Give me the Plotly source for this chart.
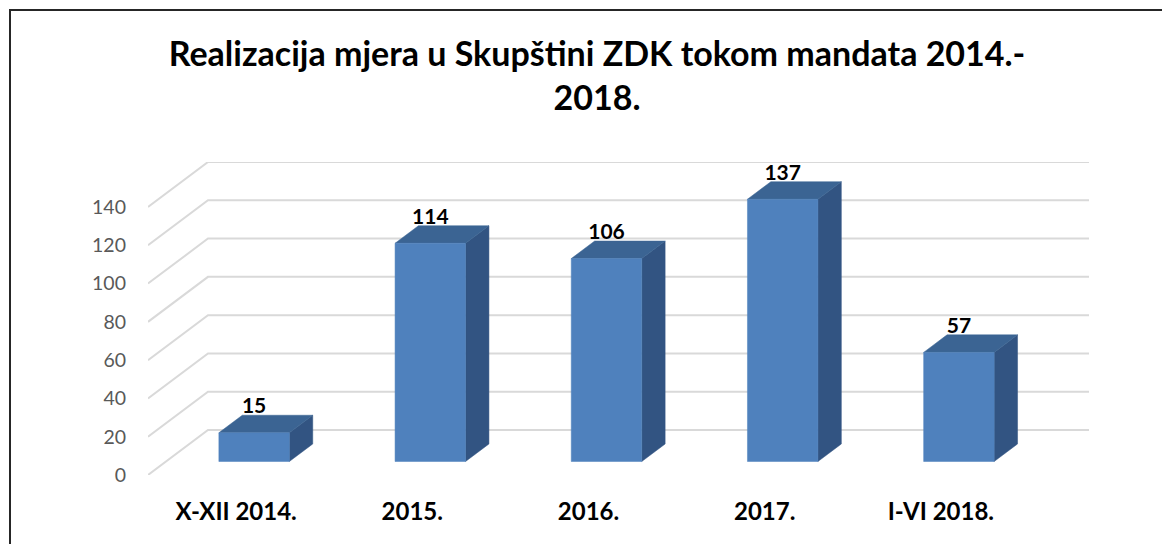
import plotly.graph_objects as go

# ---- data ----
categories = ["X-XII 2014.", "2015.", "2016.", "2017.", "I-VI 2018."]
values = [15, 114, 106, 137, 57]
y_ticks = [0, 20, 40, 60, 80, 100, 120, 140]
title_text = "Realizacija mjera u Skupštini ZDK tokom mandata 2014.-<br>2018."

# ---- pseudo-3D geometry (in axis units) ----
DX = 0.3405      # depth offset along x (category units)
DY = 23.5        # depth offset along y (value units)
Z0, Z1 = 0.30, 0.69   # bar depth span (fraction of floor depth)
HW = 0.20        # half bar width
LABEL_DROP = 1.8 # small downward nudge of value labels (value units)

FRONT = "#4F81BD"
TOP = "#3B6493"
SIDE = "#325482"
GRID = "#D9D9D9"
FONT = "Lato"

fig = go.Figure()

# grid: back wall horizontals + side-wall diagonals
gx, gy = [], []
x_left = -0.5
x_right = len(categories) - 0.5
for v in y_ticks:
    gx += [x_left, x_left + DX, x_right + DX, None]
    gy += [v, v + DY, v + DY, None]
fig.add_trace(go.Scatter(x=gx, y=gy, mode="lines",
                         line=dict(color=GRID, width=2),
                         hoverinfo="skip", showlegend=False))

# bars
for i, v in enumerate(values):
    xl0, xr0 = i - HW + Z0 * DX, i + HW + Z0 * DX
    xl1, xr1 = i - HW + Z1 * DX, i + HW + Z1 * DX
    y0, y1 = Z0 * DY, Z1 * DY
    # side face
    fig.add_trace(go.Scatter(x=[xr0, xr0, xr1, xr1, xr0], y=[y0, v + y0, v + y1, y1, y0],
                             fill="toself", fillcolor=SIDE, mode="lines",
                             line=dict(color=SIDE, width=0.5),
                             hoverinfo="skip", showlegend=False))
    # top face
    fig.add_trace(go.Scatter(x=[xl0, xr0, xr1, xl1, xl0], y=[v + y0, v + y0, v + y1, v + y1, v + y0],
                             fill="toself", fillcolor=TOP, mode="lines",
                             line=dict(color=TOP, width=0.5),
                             hoverinfo="skip", showlegend=False))
    # front face
    fig.add_trace(go.Scatter(x=[xl0, xr0, xr0, xl0, xl0], y=[y0, y0, v + y0, v + y0, y0],
                             fill="toself", fillcolor=FRONT, mode="lines",
                             line=dict(color=FRONT, width=0.5),
                             hoverinfo="skip", showlegend=False))

# data labels
fig.add_trace(go.Scatter(
    x=[i + Z0 * DX for i in range(len(values))],
    y=[v + Z1 * DY - LABEL_DROP for v in values],
    mode="text", text=[str(v) for v in values], textposition="top center",
    textfont=dict(family=FONT, size=21, color="black", weight="bold"),
    hoverinfo="skip", showlegend=False, cliponaxis=False))

# page body has an 8px margin, so the figure is drawn at (8, 8)
OFF = 8
W, H = 1170 - OFF, 544 - OFF
ML, MR, MT, MB = 148 - OFF, 81, 162 - OFF, 69

fig.update_layout(
    width=W, height=H,
    margin=dict(l=ML, r=MR, t=MT, b=MB, pad=0),
    paper_bgcolor="white", plot_bgcolor="white",
    title=dict(text=title_text, x=(597 - OFF) / W, xanchor="center",
               y=1 - 58 / H, yanchor="top", yref="container",
               font=dict(family=FONT, size=34, color="black", weight="bold")),
    xaxis=dict(range=[x_left, x_right + DX], tickvals=list(range(len(categories))),
               ticktext=categories, showgrid=False, zeroline=False, showline=False,
               ticks="", ticklabelstandoff=20,
               tickfont=dict(family=FONT, size=24, color="black", weight="bold"),
               fixedrange=True),
    yaxis=dict(range=[0, max(y_ticks) + DY], tickvals=y_ticks, showgrid=False,
               zeroline=False, showline=False, ticks="", ticklabelstandoff=21,
               tickfont=dict(family=FONT, size=19.5, color="#595959"),
               fixedrange=True),
    shapes=[dict(type="rect", xref="paper", yref="paper",
                 x0=(10 - OFF - ML) / (W - ML - MR), x1=(W + 20 - ML) / (W - ML - MR),
                 y0=-(MB + 20) / (H - MT - MB), y1=(H - (10 - OFF) - MB) / (H - MT - MB),
                 line=dict(color="#262626", width=2), layer="below")],
)

fig.write_html("out.html")
